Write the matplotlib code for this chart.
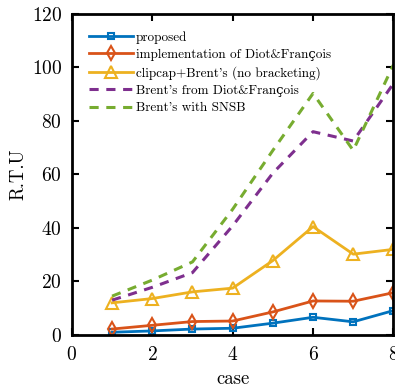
import numpy as np
import matplotlib.pyplot as plt

plt.rcParams['font.family'] = ['cmr10', 'DejaVu Serif']
plt.rcParams['axes.formatter.use_mathtext'] = True

cases = np.arange(1, 9)
proposed = [1.0, 1.5, 2.2, 2.5, 4.4, 6.6, 4.9, 9.1]
diot = [2.2, 3.6, 5.0, 5.2, 8.6, 12.7, 12.6, 15.8]
clipcap = [12.0, 13.6, 16.1, 17.5, 27.8, 40.5, 30.2, 32.0]
brent_diot = [13.0, 17.8, 23.3, 40.8, 60.5, 76.0, 72.5, 94.0]
brent_snsb = [14.5, 20.5, 27.3, 47.0, 69.0, 90.3, 69.0, 101.0]

labels = ['proposed', 'implementation of Diot&François',
          "clipcap+Brent's (no bracketing)", "Brent's from Diot&François",
          "Brent's with SNSB"]

fig = plt.figure(figsize=(3.95, 3.89), dpi=100)
ax = fig.add_axes([0.182, 0.139, 0.814, 0.825])

ax.plot(cases, proposed, color='#0072BD', lw=2, marker='s', ms=5,
        mfc='none', mew=1.5, label=labels[0])
ax.plot(cases, diot, color='#D95319', lw=2, marker='d', ms=7,
        mfc='none', mew=1.5, label=labels[1])
ax.plot(cases, clipcap, color='#EDB120', lw=2, marker='^', ms=9,
        mfc='none', mew=1.5, label=labels[2])
ax.plot(cases, brent_diot, color='#7E2F8E', lw=2.2, ls=(0, (3, 2.5)),
        label=labels[3])
ax.plot(cases, brent_snsb, color='#77AC30', lw=2.2, ls=(0, (3, 2.5)),
        label=labels[4])

ax.set_xlim(0, 8)
ax.set_ylim(0, 120)
ax.set_xticks([0, 2, 4, 6, 8])
ax.set_yticks([0, 20, 40, 60, 80, 100, 120])
ax.tick_params(direction='in', top=True, right=True, width=1.5, length=5,
               labelsize=14)
ax.tick_params(axis='x', pad=8)
ax.tick_params(axis='y', pad=7)
for s in ax.spines.values():
    s.set_linewidth(2)
ax.set_xlabel('case', fontsize=13.5, labelpad=4)
ax.set_ylabel('R.T.U', fontsize=13.5, labelpad=3)

ax.legend(loc='upper left', frameon=False, fontsize=9.5, handlelength=3.3,
          handletextpad=0.25, labelspacing=0.38, borderaxespad=0.9)

fig.savefig('out.png', dpi=100)
